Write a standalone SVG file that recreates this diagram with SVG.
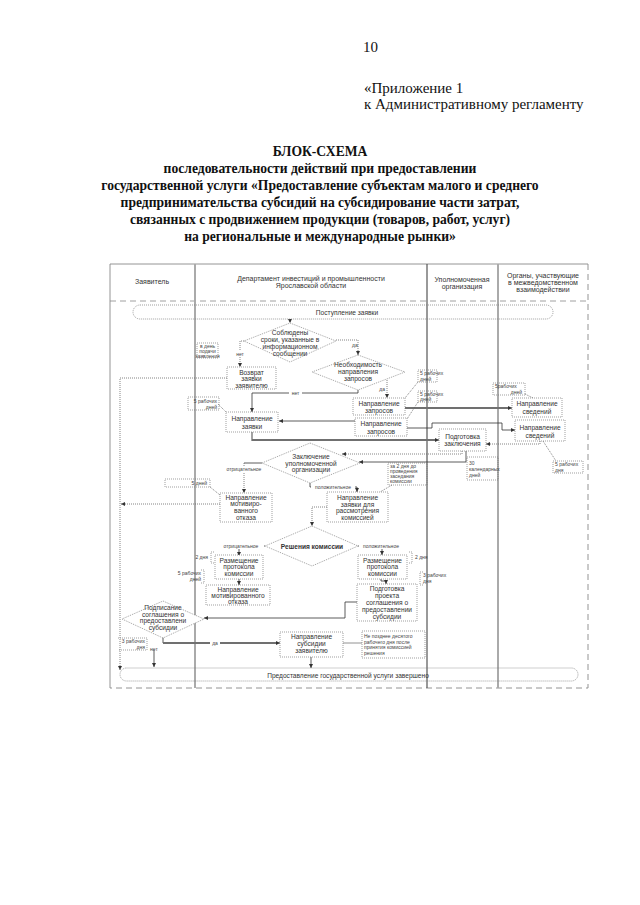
<svg xmlns="http://www.w3.org/2000/svg" width="640" height="905" viewBox="0 0 640 905">
<style>
.h{font-family:"Liberation Serif","Times New Roman",serif;font-size:15px;fill:#111}
.b{font-family:"Liberation Serif","Times New Roman",serif;font-size:13.6px;font-weight:bold;fill:#111;text-anchor:middle}
.t{font-family:"Liberation Sans",Arial,sans-serif;font-size:6.6px;fill:#333;text-anchor:middle}
.hd{font-family:"Liberation Sans",Arial,sans-serif;font-size:7px;fill:#333;text-anchor:middle}
.s{font-family:"Liberation Sans",Arial,sans-serif;font-size:5px;fill:#444}
.e{text-anchor:end}
.m{text-anchor:middle}
.box{fill:#fff;stroke:#777;stroke-width:0.7;stroke-dasharray:1 1}
.nb{fill:none;stroke:#777;stroke-width:0.7;stroke-dasharray:1 1}
.c{fill:none;stroke:#666;stroke-width:0.8;stroke-dasharray:1 1}
.d{fill:none;stroke:#333;stroke-width:0.8}
.g{fill:none;stroke:#999;stroke-width:1.8}
.lb{fill:#fff}
.col{stroke:#aaa;stroke-width:2}
</style>
<defs>
<marker id="a" markerUnits="userSpaceOnUse" markerWidth="4" markerHeight="4" refX="4" refY="2" orient="auto"><path d="M0,0 L4,2 L0,4 z" fill="#333"/></marker>
</defs>
<rect width="640" height="905" fill="#fff"/>
<text class="h" x="363" y="52">10</text>
<text class="h" x="364" y="93">«Приложение 1</text>
<text class="h" x="364" y="109">к Административному регламенту</text>
<text class="b" x="320" y="156">БЛОК-СХЕМА</text>
<text class="b" x="320" y="173">последовательности действий при предоставлении</text>
<text class="b" x="320" y="190">государственной услуги «Предоставление субъектам малого и среднего</text>
<text class="b" x="320" y="207">предпринимательства субсидий на субсидирование части затрат,</text>
<text class="b" x="320" y="224">связанных с продвижением продукции (товаров, работ, услуг)</text>
<text class="b" x="320" y="241">на региональные и международные рынки»</text>

<g id="frame">
<path d="M110,688 V264 H588" fill="none" stroke="#888" stroke-width="0.9"/>
<path d="M588,264 V688 H110" fill="none" stroke="#888" stroke-width="0.9" stroke-dasharray="6 4"/>
<line x1="110" y1="301" x2="588" y2="301" stroke="#888" stroke-width="0.8" stroke-dasharray="6 4"/>
<line class="col" x1="195" y1="264" x2="195" y2="688"/>
<line x1="427" y1="264" x2="427" y2="688" stroke="#555" stroke-width="1.2"/>
<line class="col" x1="498" y1="264" x2="498" y2="688"/>
<text class="hd" x="152" y="284">Заявитель</text>
<text class="hd" x="311" y="281">Департамент инвестиций и промышленности</text>
<text class="hd" x="311" y="288">Ярославской области</text>
<text class="hd" x="462" y="282">Уполномоченная</text>
<text class="hd" x="462" y="289">организация</text>
<text class="hd" x="543" y="278">Органы, участвующие</text>
<text class="hd" x="543" y="285">в межведомственном</text>
<text class="hd" x="543" y="292">взаимодействии</text>
</g>

<g id="connectors">
<path class="c" d="M290,319 V323" marker-end="url(#a)"/>
<path class="c" d="M244,341 H240 V367" marker-end="url(#a)"/>
<path class="c" d="M336,340 H358 V355" marker-end="url(#a)"/>
<path class="c" d="M227,378 H120 V670" marker-end="url(#a)"/>
<path class="c" d="M387,380 V398" marker-end="url(#a)"/>
<path class="d" d="M358,390 V393 H252 V412" marker-end="url(#a)"/>
<path class="g" d="M405,408 H510"/>
<path class="d" d="M405,408 H512" marker-end="url(#a)"/>
<path class="d" d="M355,421 H279" marker-end="url(#a)"/>
<path class="d" d="M407,428 H432 V423 H502 V430 H515" marker-end="url(#a)"/>
<path class="g" d="M252,432 V440 H436"/>
<path class="d" d="M252,440 H439" marker-end="url(#a)"/>
<path class="c" d="M540,441 V444 H486" marker-end="url(#a)"/>
<path class="c" d="M462,451 V454 H342" marker-end="url(#a)"/>
<path class="d" d="M466,451 V462 H359" marker-end="url(#a)"/>
<path class="d" d="M262,463 H244"/>
<path class="c" d="M244,463 V493" marker-end="url(#a)"/>
<path class="c" d="M220,504 H121" marker-end="url(#a)"/>
<path class="d" d="M310,483 V487 H357 V492" marker-end="url(#a)"/>
<path class="c" d="M327,507 H312 V526" marker-end="url(#a)"/>
<path class="d" d="M265,546 H239 V556" marker-end="url(#a)"/>
<path class="d" d="M358,546 H382 V555" marker-end="url(#a)"/>
<path class="d" d="M239,579 V585" marker-end="url(#a)"/>
<path class="d" d="M381,579 V581 H386 V584" marker-end="url(#a)"/>
<path class="d" d="M357,602 H345 V618 H204" marker-end="url(#a)"/>
<path class="d" d="M163,637 V643"/>
<path class="g" d="M163,643 H278"/>
<path class="d" d="M163,643 H280" marker-end="url(#a)"/>
<path class="d" d="M154,650 V667" marker-end="url(#a)"/>
<path class="d" d="M311,657 V668" marker-end="url(#a)"/>
<path d="M343,643 H362" stroke="#777" stroke-width="0.8"/>
<path class="c" d="M218,404 L226,412"/>
<path class="c" d="M418,382 L405,398"/>
<path class="c" d="M418,402 L407,419"/>
<path class="c" d="M525,394 L533,398"/>
<path class="c" d="M543,441 L556,461"/>
<path class="c" d="M210,487 L220,495"/>
<path class="c" d="M392,485 L380,492"/>
<rect class="lb" x="289" y="390" width="13" height="6"/>
<text class="s m" x="295.5" y="395">нет</text>
<rect class="lb" x="234" y="351" width="12" height="6"/>
<text class="s m" x="240" y="356">нет</text>
<text class="s e" x="385" y="391">да</text>
<text class="s" x="352" y="347">да</text>
<rect class="lb" x="224" y="466" width="40" height="6"/>
<text class="s m" x="244" y="471">отрицательное</text>
<rect class="lb" x="311" y="484" width="44" height="6"/>
<text class="s m" x="333" y="489">положительное</text>
<rect class="lb" x="218" y="543" width="46" height="6"/>
<text class="s m" x="241" y="548">отрицательное</text>
<rect class="lb" x="359" y="543" width="45" height="6"/>
<text class="s m" x="381" y="548">положительное</text>
<rect class="lb" x="210" y="640" width="10" height="6"/>
<text class="s m" x="215" y="645">да</text>
<text class="s" x="150" y="651">нет</text>
</g>

<g id="n-start">
<rect class="nb" x="133" y="305" width="420" height="14" rx="7"/>
<text class="t" x="347" y="314.5">Поступление заявки</text>
</g>
<g id="n-d1">
<polygon class="box" points="290,323 336,341 290,362 244,341"/>
<text class="t" x="290" y="334.5">Соблюдены</text>
<text class="t" x="290" y="341.5">сроки, указанные в</text>
<text class="t" x="290" y="348.5">информационном</text>
<text class="t" x="290" y="355.5">сообщении</text>
</g>
<g id="n-note-day">
<rect class="nb" x="197" y="343" width="21" height="15"/>
<text class="s m" x="207.5" y="347.5" font-size="4.2">в день</text>
<text class="s m" x="207.5" y="352.5" font-size="4.2">подачи</text>
<text class="s m" x="207.5" y="357.5" font-size="4.2">заявления</text>
</g>
<g id="n-return">
<rect class="box" x="227" y="367" width="49" height="22"/>
<text class="t" x="251.5" y="374.5">Возврат</text>
<text class="t" x="251.5" y="381">заявки</text>
<text class="t" x="251.5" y="387.5">заявителю</text>
</g>
<g id="n-d2">
<polygon class="box" points="358,355 405,372 358,390 312,372"/>
<text class="t" x="358" y="367">Необходимость</text>
<text class="t" x="358" y="374">направления</text>
<text class="t" x="358" y="381">запросов</text>
</g>
<g id="n-note1">
<rect class="nb" x="418" y="370" width="19" height="12"/>
<text class="s" x="420" y="375">5 рабочих</text>
<text class="s" x="420" y="381">дней</text>
</g>
<g id="n-note2">
<rect class="nb" x="418" y="391" width="19" height="11"/>
<text class="s" x="420" y="396">5 рабочих</text>
<text class="s" x="420" y="401">дней</text>
</g>
<g id="n-note3">
<rect class="nb" x="493" y="383" width="32" height="12"/>
<text class="s" x="495" y="388">5рабочих</text>
<text class="s e" x="522" y="394">дней</text>
</g>
<g id="n-note0">
<rect class="nb" x="188" y="397" width="31" height="13"/>
<text class="s e" x="217" y="402.5">5 рабочих</text>
<text class="s e" x="217" y="408.5">дней</text>
</g>
<g id="n-req1">
<rect class="box" x="353" y="398" width="52" height="17"/>
<text class="t" x="379" y="405.5">Направление</text>
<text class="t" x="379" y="413">запросов</text>
</g>
<g id="n-req2">
<rect class="box" x="355" y="418" width="52" height="18"/>
<text class="t" x="381" y="426">Направление</text>
<text class="t" x="381" y="433.5">запросов</text>
</g>
<g id="n-info1">
<rect class="box" x="512" y="398" width="50" height="19"/>
<text class="t" x="537" y="405.5">Направление</text>
<text class="t" x="537" y="414">сведений</text>
</g>
<g id="n-info2">
<rect class="box" x="515" y="420" width="50" height="21"/>
<text class="t" x="540" y="430">Направление</text>
<text class="t" x="540" y="438">сведений</text>
</g>
<g id="n-send">
<rect class="box" x="226" y="412" width="52" height="20"/>
<text class="t" x="252" y="421">Направление</text>
<text class="t" x="252" y="428.5">заявки</text>
</g>
<g id="n-prep">
<rect class="box" x="439" y="429" width="47" height="22"/>
<text class="t" x="462.5" y="438.5">Подготовка</text>
<text class="t" x="462.5" y="446">заключения</text>
</g>
<g id="n-note30">
<rect class="nb" x="467" y="457" width="31" height="23"/>
<text class="s" x="469" y="464.5">30</text>
<text class="s" x="469" y="470.5">календарных</text>
<text class="s" x="469" y="477">дней</text>
</g>
<g id="n-note4">
<rect class="nb" x="553" y="461" width="30" height="12"/>
<text class="s" x="555" y="466">5 рабочих</text>
<text class="s" x="555" y="471.5">дня</text>
</g>
<g id="n-d3">
<polygon class="box" points="310,443 360,463 310,483 262,463"/>
<text class="t" x="311" y="459">Заключение</text>
<text class="t" x="311" y="465.5">уполномоченной</text>
<text class="t" x="311" y="472">организации</text>
</g>
<g id="n-note-2d">
<rect class="nb" x="388" y="463" width="39" height="22"/>
<text class="s" x="390" y="467.5" font-size="4.8">за 2 дня до</text>
<text class="s" x="390" y="472.5" font-size="4.8">проведения</text>
<text class="s" x="390" y="477.5" font-size="4.8">заседания</text>
<text class="s" x="390" y="482.5" font-size="4.8">комиссии</text>
</g>
<g id="n-note5d">
<rect class="nb" x="165" y="479" width="45" height="8"/>
<text class="s e" x="207" y="485">5 дней</text>
</g>
<g id="n-refuse1">
<rect class="box" x="220" y="493" width="52" height="29"/>
<text class="t" x="246" y="499.5">Направление</text>
<text class="t" x="246" y="506">мотивиро-</text>
<text class="t" x="246" y="513">ванного</text>
<text class="t" x="246" y="519.5">отказа</text>
</g>
<g id="n-tocomm">
<rect class="box" x="327" y="492" width="61" height="30"/>
<text class="t" x="357.5" y="500">Направление</text>
<text class="t" x="357.5" y="506.5">заявки для</text>
<text class="t" x="357.5" y="513">рассмотрения</text>
<text class="t" x="357.5" y="519.5">комиссией</text>
</g>
<g id="n-d4">
<polygon class="box" points="312,526 358,546 312,566 265,546"/>
<text class="t" x="312" y="548.5" font-weight="bold">Решения комиссии</text>
</g>
<g id="n-note2a">
<path class="nb" d="M214,552 H211 V563 H214"/>
<text class="s e" x="208" y="559">2 дня</text>
</g>
<g id="n-note2b">
<path class="nb" d="M409,552 H412 V563 H409"/>
<text class="s" x="415" y="559">2 дня</text>
</g>
<g id="n-pub1">
<rect class="box" x="215" y="555" width="48" height="24"/>
<text class="t" x="239" y="562.5">Размещение</text>
<text class="t" x="239" y="569">протокола</text>
<text class="t" x="239" y="576">комиссии</text>
</g>
<g id="n-pub2">
<rect class="box" x="358" y="555" width="49" height="24"/>
<text class="t" x="382.5" y="562.5">Размещение</text>
<text class="t" x="382.5" y="569">протокола</text>
<text class="t" x="382.5" y="576">комиссии</text>
</g>
<g id="n-note5r">
<path class="nb" d="M201,570 H204 V583 H201"/>
<text class="s e" x="201" y="575">5 рабочих</text>
<text class="s e" x="201" y="581">дней</text>
</g>
<g id="n-note3r">
<path class="nb" d="M423,572 H420 V585 H423"/>
<text class="s" x="423" y="576.5">3 рабочих</text>
<text class="s" x="423" y="582.5">дня</text>
</g>
<g id="n-refuse2">
<rect class="box" x="206" y="585" width="64" height="20"/>
<text class="t" x="238" y="591.5">Направление</text>
<text class="t" x="238" y="598">мотивированного</text>
<text class="t" x="238" y="604">отказа</text>
</g>
<g id="n-draft">
<rect class="box" x="357" y="584" width="60" height="37"/>
<text class="t" x="387" y="591">Подготовка</text>
<text class="t" x="387" y="598">проекта</text>
<text class="t" x="387" y="605">соглашения о</text>
<text class="t" x="387" y="612">предоставлении</text>
<text class="t" x="387" y="618.5">субсидии</text>
</g>
<g id="n-d5">
<polygon class="box" points="163,601 204,619 163,638 122,619"/>
<text class="t" x="163" y="610">Подписание</text>
<text class="t" x="163" y="616.5">соглашения о</text>
<text class="t" x="163" y="623">предоставлени</text>
<text class="t" x="163" y="630">субсидии</text>
</g>
<g id="n-note3l">
<path class="nb" d="M118,638 H147 V650 H118"/>
<text class="s e" x="145" y="643">3 рабочих</text>
<text class="s e" x="145" y="648.5">дня</text>
</g>
<g id="n-pay">
<rect class="box" x="280" y="632" width="63" height="25"/>
<text class="t" x="311.5" y="639">Направление</text>
<text class="t" x="311.5" y="646">субсидии</text>
<text class="t" x="311.5" y="652.5">заявителю</text>
</g>
<g id="n-note10">
<rect class="nb" x="362" y="631" width="63" height="27"/>
<text class="s" x="364" y="637.5" font-size="4.8">Не позднее десятого</text>
<text class="s" x="364" y="643.5" font-size="4.8">рабочего дня после</text>
<text class="s" x="364" y="649" font-size="4.8">принятия комиссией</text>
<text class="s" x="364" y="655" font-size="4.8">решения</text>
</g>
<g id="n-end">
<rect class="nb" x="120" y="668" width="458" height="13" rx="6.5"/>
<text class="t" x="348" y="677.5">Предоставление государственной услуги завершено</text>
</g>
</svg>
